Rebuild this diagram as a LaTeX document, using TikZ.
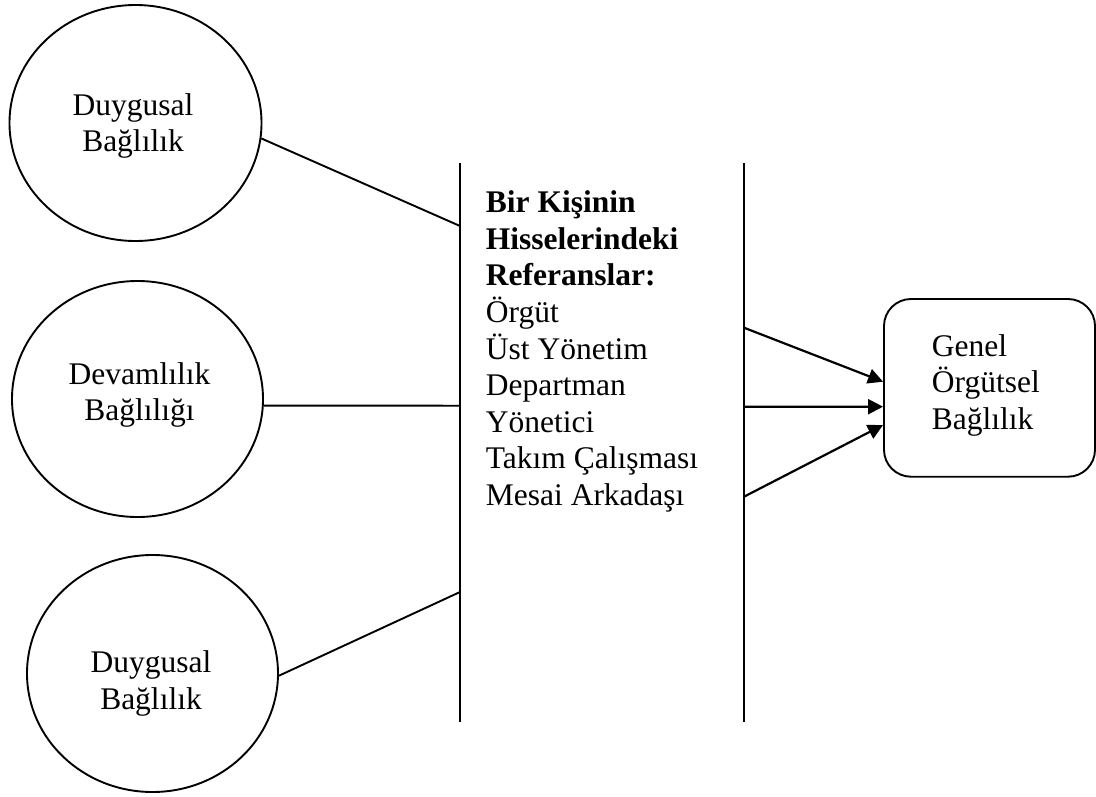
\documentclass[tikz,border=0pt]{standalone}
\usepackage{fontspec}
\setmainfont{Liberation Serif}
\usetikzlibrary{shapes.geometric,arrows.meta}
\begin{document}
\begin{tikzpicture}[x=1pt,y=-1pt,
  every node/.style={inner sep=0pt},
  bubble/.style={draw,ellipse,line width=1.9pt},
  txt/.style={font=\fontsize{31.5}{36.6}\selectfont},
  link/.style={line width=1.9pt},
  arr/.style={line width=2.2pt,-{Triangle[length=15pt,width=15pt]}},
  bar/.style={line width=1.9pt},
  goal/.style={draw,rectangle,rounded corners=27pt,line width=1.9pt}]
\useasboundingbox (0,0) rectangle (1096,796);
% ellipses
\node[bubble,minimum width=252pt,minimum height=236pt] (c1) at (135.5,123) {};
\node[bubble,minimum width=251pt,minimum height=236pt] (c2) at (137.5,399) {};
\node[bubble,minimum width=251pt,minimum height=237pt] (c3) at (152.5,673.5) {};
% (base anchor = baseline of the last line)
\node[txt,align=center,anchor=base] (t1) at (133,151.6) {Duygusal\\Bağlılık};
\node[txt,align=center,anchor=base] (t2) at (139.5,420.6) {Devamlılık\\Bağlılığı};
\node[txt,align=center,anchor=base] (t3) at (151,709.3) {Duygusal\\Bağlılık};
% vertical bars
\coordinate (lt) at (460,163);
\coordinate (lb) at (460,722);
\coordinate (rt) at (744,163);
\coordinate (rb) at (744,722);
\draw[bar] (lt) -- (lb);
\draw[bar] (rt) -- (rb);
% central text
\node[txt,align=left,anchor=base west] (mid) at (485.7,505.5)
 {\textbf{Bir Kişinin}\\\textbf{Hisselerindeki}\\\textbf{Referanslar:}\\Örgüt\\Üst Yönetim\\Departman\\Yönetici\\Takım Çalışması\\Mesai Arkadaşı};
% connection points on bars
\coordinate (l1) at (460,226);
\coordinate (l2) at (460,405.7);
\coordinate (l3) at (460,592);
\coordinate (r1) at (744,327.7);
\coordinate (r2) at (744,406.7);
\coordinate (r3) at (744,496.7);
\draw[link] (c1.-7) -- (l1);
\draw[link] (c2.-3) -- (l2);
\draw[link] (c3.-1) -- (l3);
% goal box
\node[goal,minimum width=211pt,minimum height=177.7pt] (box) at (989.5,387.85) {};
\node[txt,align=left,anchor=base west] (gt) at (931.7,429.2) {Genel\\Örgütsel\\Bağlılık};
\draw[arr] (r1) -- ([yshift=6.15pt]box.west);
\draw[arr] (r2) -- ([yshift=-18.85pt]box.west);
\draw[arr] (r3) -- ([yshift=-37.15pt]box.west);
\end{tikzpicture}
\end{document}
